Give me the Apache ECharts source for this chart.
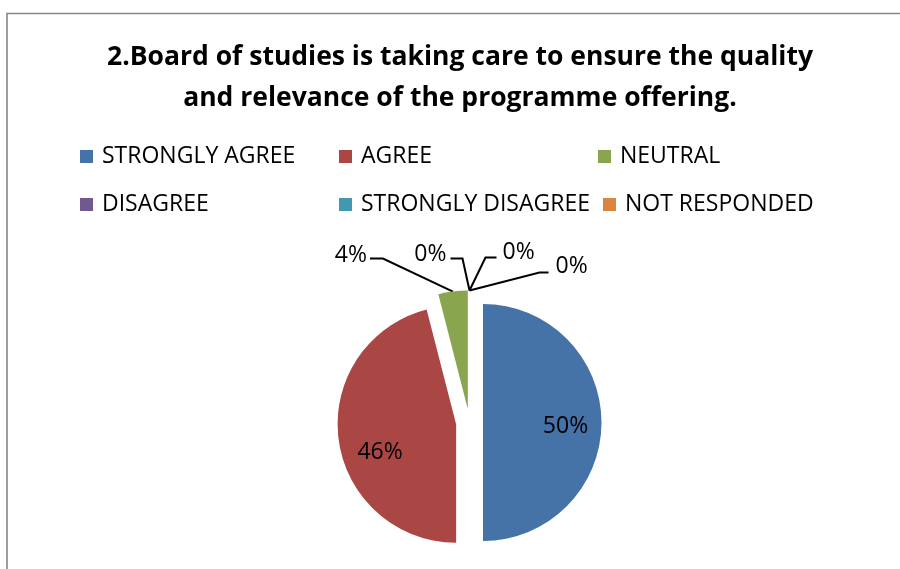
<!DOCTYPE html>
<html>
<head>
<meta charset="utf-8">
<script src="https://cdn.jsdelivr.net/npm/echarts@6/dist/echarts.min.js"></script>
<style>
  html, body { margin: 0; padding: 0; background: #ffffff; }
  #chart { width: 900px; height: 569px; }
</style>
</head>
<body>
<div id="chart"></div>
<script>
// Survey question and responses
const titleLines = [
  '2.Board of studies is taking care to ensure the quality',
  'and relevance of the programme offering.'
];
const categories = ['STRONGLY AGREE', 'AGREE', 'NEUTRAL', 'DISAGREE', 'STRONGLY DISAGREE', 'NOT RESPONDED'];
const percentages = [50, 46, 4, 0, 0, 0];
const sliceColors = ['#4572A7', '#AA4643', '#89A54E', '#71588F', '#4198AF', '#DB843D'];

// Pie geometry
const PIE_CENTER = [469.5, 422.5];
const PIE_RADIUS = 118.5;
const EXPLODE = 13.5;

// Label placement relative to where the pie puts each label by default.
// Inside labels get a small nudge; outside labels get a bent leader line
// starting at the outer middle point of their (exploded) slice.
const labelPlacement = [
  { inside: true, dx: 27, dy: 4 },
  { inside: true, dx: -21, dy: 21 },
  { elbow: [-70, -33], end: [-83, -33], text: [-86, -36], align: 'right' },
  { elbow: [-7, -32], end: [-19, -32], text: [-23, -36], align: 'right' },
  { elbow: [16, -33], end: [27, -33], text: [33, -38], align: 'left' },
  { elbow: [70, -18], end: [79, -18], text: [86, -24], align: 'left' }
];

const chart = echarts.init(document.getElementById('chart'), null, { renderer: 'canvas' });

// Coloured, exploded slices
const sliceData = categories.map((name, i) => ({
  name: name,
  value: percentages[i],
  selected: true,
  itemStyle: { color: sliceColors[i] }
}));

// Same values again, invisible, carrying the percentage labels.
// Its radius reaches the outer edge of the exploded slices.
const labelData = categories.map((name, i) => ({
  name: name,
  value: percentages[i],
  label: { position: labelPlacement[i].inside ? 'inside' : 'outside' },
  labelLine: { show: !labelPlacement[i].inside }
}));

chart.setOption({
  animation: false,
  backgroundColor: '#ffffff',
  graphic: [{
    type: 'rect',
    silent: true,
    shape: { x: 7, y: 13.5, width: 1000, height: 1000 },
    style: { fill: 'none', stroke: '#878787', lineWidth: 1.6 }
  }],
  title: {
    text: titleLines.join('\n'),
    left: 460,
    top: 36.5,
    padding: 0,
    textAlign: 'center',
    textStyle: {
      fontFamily: 'Open Sans',
      fontWeight: 'bold',
      fontSize: 26.5,
      lineHeight: 41,
      color: '#000000'
    }
  },
  legend: {
    data: categories,
    left: 75,
    top: 134,
    width: 790,
    orient: 'horizontal',
    itemWidth: 13,
    itemHeight: 13,
    itemGap: 13,
    icon: 'rect',
    selectedMode: false,
    textStyle: {
      fontFamily: 'Open Sans',
      fontSize: 23,
      color: '#000000',
      width: 224,
      lineHeight: 35,
      padding: [0, 0, 0, 4]
    }
  },
  series: [{
    type: 'pie',
    center: PIE_CENTER,
    radius: PIE_RADIUS,
    startAngle: 90,
    clockwise: true,
    selectedMode: 'multiple',
    selectedOffset: EXPLODE,
    silent: true,
    emphasis: { disabled: true },
    itemStyle: { borderWidth: 0 },
    label: { show: false },
    labelLine: { show: false },
    data: sliceData
  }, {
    type: 'pie',
    center: PIE_CENTER,
    radius: PIE_RADIUS + EXPLODE,
    startAngle: 90,
    clockwise: true,
    silent: true,
    avoidLabelOverlap: false,
    emphasis: { disabled: true },
    itemStyle: { color: 'rgba(0,0,0,0)', borderWidth: 0 },
    label: {
      show: true,
      formatter: '{c}%',
      fontFamily: 'Open Sans',
      fontSize: 23,
      color: '#000000'
    },
    labelLine: {
      show: true,
      length: 20,
      length2: 10,
      lineStyle: { color: '#000000', width: 2 }
    },
    labelLayout: function (p) {
      const pl = labelPlacement[p.dataIndex];
      if (pl.inside) {
        return {
          x: p.labelRect.x + p.labelRect.width / 2 + pl.dx,
          y: p.labelRect.y + p.labelRect.height / 2 + pl.dy,
          align: 'center',
          verticalAlign: 'middle'
        };
      }
      const a = p.labelLinePoints[0];
      return {
        x: a[0] + pl.text[0],
        y: a[1] + pl.text[1],
        align: pl.align,
        verticalAlign: 'middle',
        labelLinePoints: [
          [a[0], a[1]],
          [a[0] + pl.elbow[0], a[1] + pl.elbow[1]],
          [a[0] + pl.end[0], a[1] + pl.end[1]]
        ]
      };
    },
    data: labelData
  }]
});
</script>
</body>
</html>
